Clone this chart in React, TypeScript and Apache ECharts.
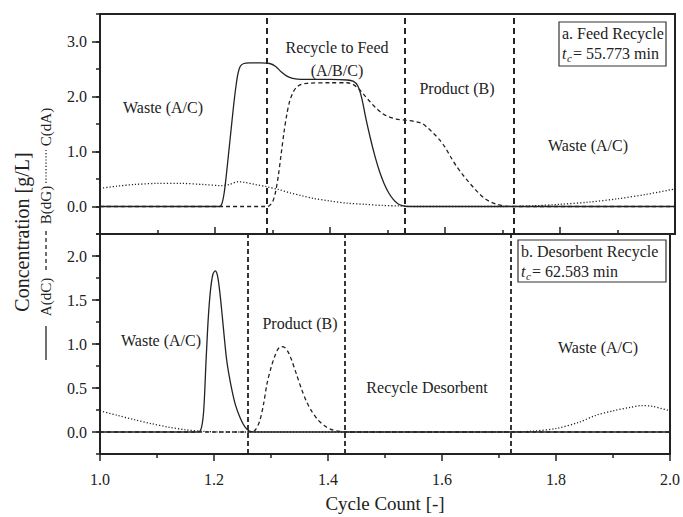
import React, { useEffect, useRef } from 'react';
import * as echarts from 'echarts';

// Cycle-count axis
const cycleTicks = [1.0, 1.2, 1.4, 1.6, 1.8, 2.0];

// Panel a: feed recycle, concentration profiles [cycle, g/L]
const feedA = [
  [1.0, 0], [1.208, 0], [1.212, 0.05], [1.216, 0.25], [1.22, 0.6], [1.224, 1.0], [1.228, 1.4],
  [1.232, 1.8], [1.236, 2.15], [1.24, 2.42], [1.244, 2.55], [1.25, 2.6], [1.26, 2.61], [1.28, 2.61],
  [1.295, 2.6], [1.305, 2.55], [1.315, 2.45], [1.325, 2.37], [1.335, 2.33], [1.35, 2.31], [1.4, 2.31],
  [1.43, 2.3], [1.44, 2.28], [1.448, 2.2], [1.455, 1.98], [1.462, 1.62], [1.47, 1.25], [1.478, 0.92],
  [1.486, 0.64], [1.494, 0.42], [1.502, 0.25], [1.51, 0.13], [1.518, 0.05], [1.526, 0.015], [1.535, 0],
  [2.0, 0],
];
const feedB = [
  [1.0, 0], [1.29, 0], [1.295, 0.02], [1.3, 0.08], [1.305, 0.25], [1.31, 0.55], [1.315, 0.95],
  [1.32, 1.35], [1.325, 1.68], [1.33, 1.92], [1.336, 2.08], [1.342, 2.17], [1.35, 2.22], [1.36, 2.24],
  [1.4, 2.25], [1.43, 2.25], [1.44, 2.22], [1.45, 2.14], [1.46, 2.02], [1.47, 1.9], [1.48, 1.79],
  [1.49, 1.7], [1.5, 1.64], [1.515, 1.59], [1.53, 1.57], [1.545, 1.55], [1.56, 1.51], [1.57, 1.43],
  [1.58, 1.33], [1.59, 1.22], [1.6, 1.08], [1.61, 0.9], [1.62, 0.73], [1.63, 0.59], [1.64, 0.46],
  [1.65, 0.34], [1.66, 0.23], [1.67, 0.14], [1.68, 0.08], [1.69, 0.04], [1.7, 0.015], [1.715, 0],
  [2.0, 0],
];
const feedC = [
  [1.0, 0.33], [1.03, 0.37], [1.06, 0.4], [1.1, 0.42], [1.14, 0.42], [1.18, 0.4], [1.21, 0.38],
  [1.225, 0.4], [1.24, 0.45], [1.25, 0.44], [1.27, 0.4], [1.29, 0.36], [1.31, 0.31], [1.33, 0.25],
  [1.35, 0.2], [1.37, 0.15], [1.4, 0.1], [1.43, 0.06], [1.46, 0.04], [1.49, 0.02], [1.52, 0.01],
  [1.55, 0], [1.7, 0], [1.75, 0.01], [1.8, 0.04], [1.85, 0.08], [1.9, 0.14], [1.95, 0.22], [2.0, 0.32],
];
const feedCuts = [1.288, 1.53, 1.718];

// Panel b: desorbent recycle
const desA = [
  [1.0, 0], [1.172, 0], [1.178, 0.05], [1.182, 0.25], [1.186, 0.8], [1.19, 1.3], [1.194, 1.62],
  [1.198, 1.79], [1.202, 1.83], [1.206, 1.78], [1.21, 1.6], [1.214, 1.35], [1.218, 1.08],
  [1.222, 0.83], [1.226, 0.66], [1.232, 0.46], [1.238, 0.3], [1.246, 0.16], [1.254, 0.06],
  [1.262, 0.01], [1.27, 0], [2.0, 0],
];
const desB = [
  [1.0, 0], [1.265, 0], [1.272, 0.02], [1.28, 0.12], [1.287, 0.32], [1.293, 0.55], [1.3, 0.73],
  [1.306, 0.85], [1.312, 0.94], [1.318, 0.97], [1.324, 0.96], [1.33, 0.91], [1.336, 0.82],
  [1.345, 0.65], [1.354, 0.48], [1.362, 0.35], [1.371, 0.24], [1.382, 0.14], [1.394, 0.07],
  [1.405, 0.03], [1.418, 0.01], [1.43, 0], [2.0, 0],
];
const desC = [
  [1.0, 0.24], [1.03, 0.19], [1.06, 0.14], [1.09, 0.095], [1.12, 0.055], [1.15, 0.025],
  [1.18, 0.008], [1.21, 0], [1.72, 0], [1.76, 0.01], [1.8, 0.04], [1.84, 0.11], [1.87, 0.19],
  [1.9, 0.24], [1.93, 0.28], [1.95, 0.3], [1.97, 0.29], [2.0, 0.24],
];
const desCuts = [1.263, 1.43, 1.72];

const FONT = '"Liberation Serif", "Times New Roman", serif';
const INK = '#222';

const solid = { color: INK, width: 1.3 };
const dashed = { color: INK, width: 1.3, type: [4, 3] };
const dotted = { color: INK, width: 1.3, type: [1.2, 2] };

function cutLines(cuts: number[], dash: number[], width: number) {
  return {
    silent: true,
    symbol: ['none', 'none'],
    label: { show: false },
    lineStyle: { color: INK, type: dash, width },
    data: cuts.map((v) => ({ xAxis: v })),
  };
}

function line(data: number[][], grid: number, style: any, extra: any = {}) {
  return {
    type: 'line',
    xAxisIndex: grid,
    yAxisIndex: grid,
    data,
    showSymbol: false,
    smooth: 0.3,
    lineStyle: style,
    ...extra,
  };
}

const label = (text: string, x: number, y: number) => ({
  type: 'text',
  x,
  y,
  style: { text, fontFamily: FONT, fontSize: 16, fill: INK, align: 'center', verticalAlign: 'middle' },
});

function infoBox(x: number, y: number, w: number, h: number, title: string, tc: string) {
  const t = (text: string, dx: number, dy: number, size: number, italic = false) => ({
    type: 'text',
    x: x + dx,
    y: y + dy,
    style: {
      text,
      fontFamily: FONT,
      fontSize: size,
      fontStyle: italic ? 'italic' : 'normal',
      fill: INK,
      align: 'left',
      verticalAlign: 'middle',
    },
  });
  return {
    type: 'group',
    children: [
      { type: 'rect', shape: { x, y, width: w, height: h }, style: { fill: '#fff', stroke: '#333', lineWidth: 1.2 } },
      t(title, 3, 11, 16),
      t('t', 3, 31, 16, true),
      t('c', 8, 36, 11, true),
      t('= ' + tc, 14, 31, 16),
    ],
  };
}

const legendKey = {
  type: 'group',
  x: 46,
  y: 234,
  rotation: Math.PI / 2,
  children: [
    { type: 'line', shape: { x1: -126, y1: 0, x2: -92, y2: 0 }, style: { stroke: INK, lineWidth: 1.3 } },
    { type: 'text', x: -63, y: 0, style: { text: 'A(dC)', fontFamily: FONT, fontSize: 15, fill: INK, align: 'center', verticalAlign: 'middle' } },
    { type: 'line', shape: { x1: -36, y1: 0, x2: 6, y2: 0 }, style: { stroke: INK, lineWidth: 1.3, lineDash: [4, 3] } },
    { type: 'text', x: 29, y: 0, style: { text: 'B(dG)', fontFamily: FONT, fontSize: 15, fill: INK, align: 'center', verticalAlign: 'middle' } },
    { type: 'line', shape: { x1: 51, y1: 0, x2: 84, y2: 0 }, style: { stroke: INK, lineWidth: 1.3, lineDash: [1.2, 2] } },
    { type: 'text', x: 107, y: 0, style: { text: 'C(dA)', fontFamily: FONT, fontSize: 15, fill: INK, align: 'center', verticalAlign: 'middle' } },
  ],
};

const axisLine = { show: true, onZero: false, lineStyle: { color: INK, width: 2 } };
const tickStyle = { color: INK, width: 1.5 };
const tickText = { fontFamily: FONT, fontSize: 16, color: INK };

export default function App() {
  const ref = useRef<HTMLDivElement>(null);

  useEffect(() => {
    const chart = echarts.init(ref.current!, null, { renderer: 'svg' });
    chart.setOption({
      animation: false,
      backgroundColor: '#fff',
      grid: [
        { left: 100, top: 14, width: 575, height: 220, show: true, borderColor: INK, borderWidth: 2, backgroundColor: 'transparent' },
        { left: 100, top: 234, width: 575, height: 220, show: true, borderColor: INK, borderWidth: 2, backgroundColor: 'transparent' },
        // label/major-tick overlays aligned with the panels' value ranges
        { left: 100, top: 41.5, width: 575, height: 165 },
        { left: 100, top: 256, width: 575, height: 176 },
      ],
      xAxis: [
        {
          gridIndex: 0, type: 'value', min: 1, max: 2, interval: 0.2,
          axisLine,
          axisTick: { show: true, inside: true, length: 7, lineStyle: tickStyle },
          minorTick: { show: true, splitNumber: 2, length: 4, lineStyle: tickStyle },
          axisLabel: { show: false },
          splitLine: { show: false },
        },
        {
          gridIndex: 1, type: 'value', min: 1, max: 2, interval: 0.2,
          axisLine,
          axisTick: { show: true, inside: false, length: 7, lineStyle: tickStyle },
          minorTick: { show: true, splitNumber: 2, length: 4, lineStyle: tickStyle },
          axisLabel: {
            show: true, margin: 17, ...tickText,
            formatter: (v: number) => (cycleTicks.some((c) => Math.abs(c - v) < 1e-6) ? v.toFixed(1) : ''),
          },
          splitLine: { show: false },
          name: 'Cycle Count [-]',
          nameLocation: 'middle',
          nameGap: 40,
          nameTextStyle: { fontFamily: FONT, fontSize: 19, color: INK },
        },
        { gridIndex: 2, type: 'value', min: 1, max: 2, show: false },
        { gridIndex: 3, type: 'value', min: 1, max: 2, show: false },
      ],
      yAxis: [
        {
          gridIndex: 0, type: 'value', min: -0.5, max: 3.5, interval: 0.5,
          axisLine,
          axisTick: { show: true, length: 4, lineStyle: tickStyle },
          axisLabel: { show: false },
          splitLine: { show: false },
        },
        {
          gridIndex: 1, type: 'value', min: -0.25, max: 2.25, interval: 0.25,
          axisLine,
          axisTick: { show: true, length: 4, lineStyle: tickStyle },
          axisLabel: { show: false },
          splitLine: { show: false },
        },
        {
          gridIndex: 2, type: 'value', min: 0, max: 3, interval: 1,
          axisLine: { show: false, onZero: false },
          axisTick: { show: true, length: 8, lineStyle: tickStyle },
          axisLabel: { show: true, margin: 13, ...tickText, formatter: (v: number) => v.toFixed(1) },
          splitLine: { show: false },
        },
        {
          gridIndex: 3, type: 'value', min: 0, max: 2, interval: 0.5,
          axisLine: { show: false, onZero: false },
          axisTick: { show: true, length: 8, lineStyle: tickStyle },
          axisLabel: { show: true, margin: 13, ...tickText, formatter: (v: number) => v.toFixed(1) },
          splitLine: { show: false },
        },
      ],
      series: [
        line(feedC, 0, dotted),
        line(feedB, 0, dashed),
        line(feedA, 0, solid, { markLine: cutLines(feedCuts, [6, 4], 2) }),
        line(desC, 1, dotted),
        line(desB, 1, dashed),
        line(desA, 1, solid, { markLine: cutLines(desCuts, [5, 3], 1.8) }),
      ],
      graphic: [
        {
          type: 'text', x: 22, y: 232, rotation: Math.PI / 2,
          style: { text: 'Concentration [g/L]', fontFamily: FONT, fontSize: 20, fill: INK, align: 'center', verticalAlign: 'middle' },
        },
        legendKey,
        label('Waste (A/C)', 163, 107),
        label('Recycle to Feed', 337, 47),
        label('(A/B/C)', 337, 70),
        label('Product (B)', 457, 88),
        label('Waste (A/C)', 588, 145),
        label('Waste (A/C)', 161, 340),
        label('Product (B)', 300, 323),
        label('Recycle Desorbent', 427, 387),
        label('Waste (A/C)', 598, 347),
        infoBox(559, 22, 107, 44, 'a. Feed Recycle', '55.773 min'),
        infoBox(518, 240, 148, 42, 'b. Desorbent Recycle', '62.583 min'),
      ],
    });
    return () => chart.dispose();
  }, []);

  return <div ref={ref} style={{ position: 'absolute', left: 0, top: 0, width: 683, height: 517 }} />;
}
